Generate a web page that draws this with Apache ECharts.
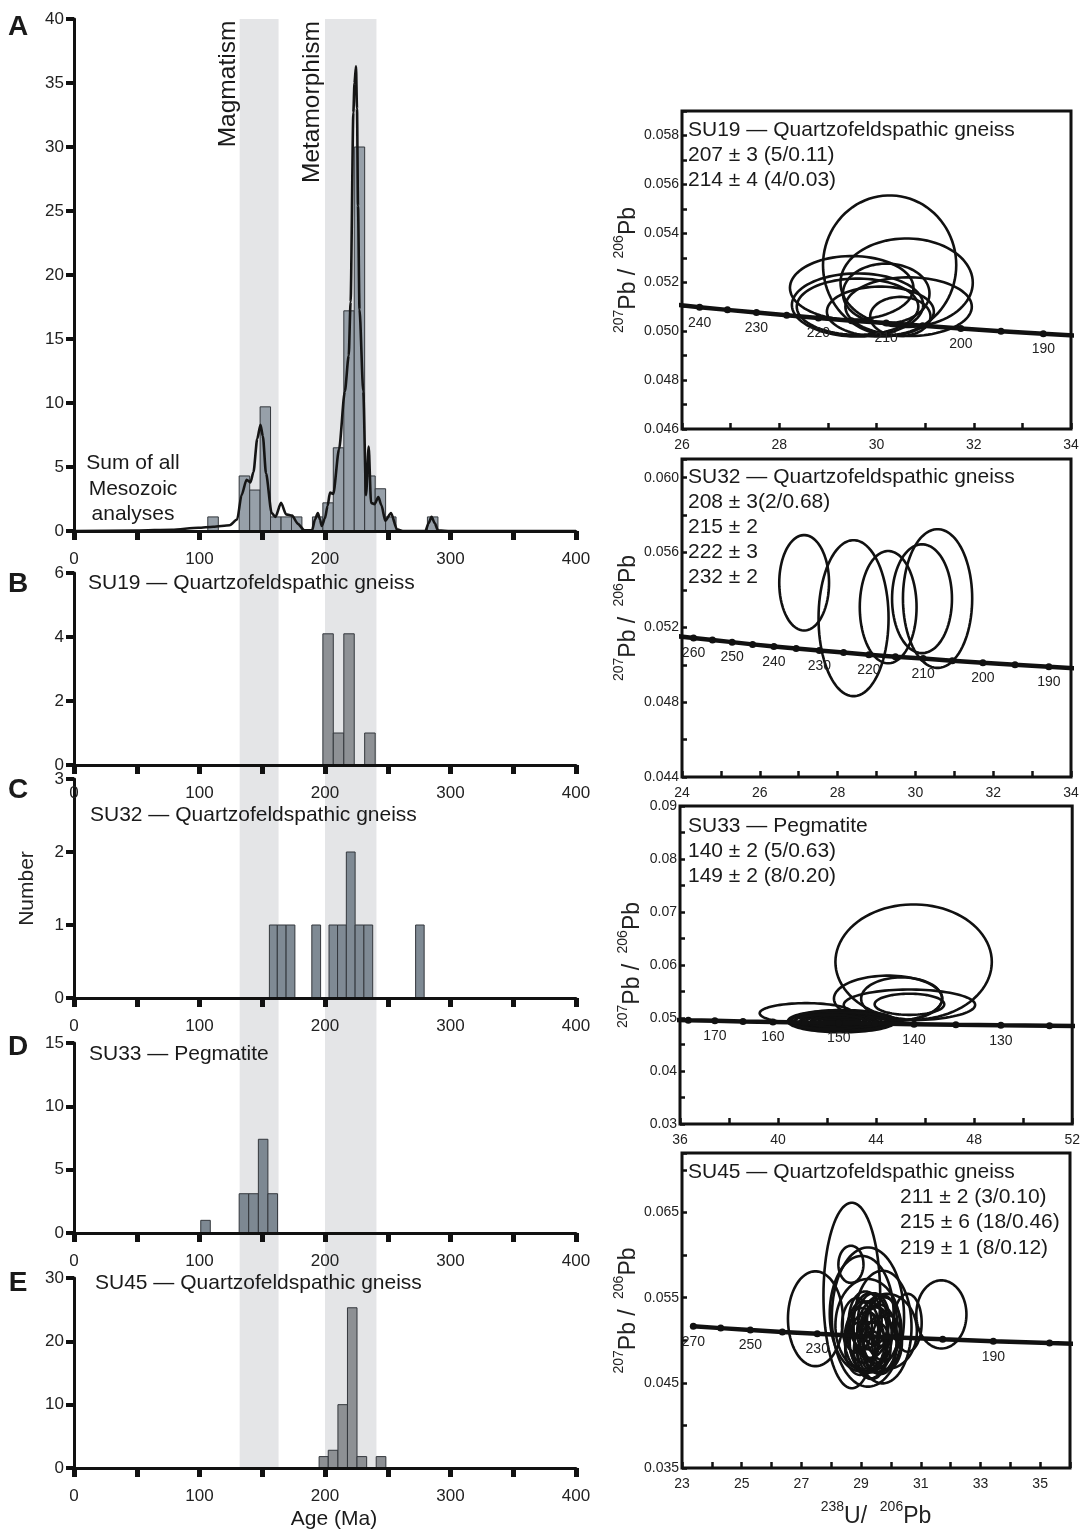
<!DOCTYPE html>
<html>
<head>
<meta charset="utf-8">
<script src="https://cdn.jsdelivr.net/npm/echarts@6/dist/echarts.min.js"></script>
<style>
  html, body { margin: 0; padding: 0; background: #fff; }
  #chart { width: 1083px; height: 1529px; }
</style>
</head>
<body>
<div id="chart"></div>
<script>
const FONT = '"Liberation Sans", Arial, Helvetica, sans-serif';

// age bands (Ma)
const bands = [[132, 163], [200, 241]];

// histogram bins: [from, to, count]
const binsA = [[106.6,115,1.1],[131.6,140,4.3],[140,148.3,3.2],[148.3,156.6,9.7],[156.6,165,1.1],[165,173.3,1.1],[173.3,181.6,1.1],[190,198.3,1.1],[198.3,206.6,2.2],[206.6,215,6.5],[215,223.3,17.2],[223.3,231.6,30],[231.6,240,4.3],[240,248.3,3.3],[248.3,256.6,1.1],[281.6,290,1.1]];
const binsB = [[198.3,206.6,4.1],[206.6,215,1],[215,223.3,4.1],[231.6,240,1]];
const binsC = [[155.7,162,1],[162,169,1],[169,176,1],[189.5,196.5,1],[203.2,210,1],[210,217,1],[217,224,2],[224,231,1],[231,238,1],[272.2,279,1]];
const binsD = [[101,108.6,1],[131.6,139.2,3.1],[139.2,146.9,3.1],[146.9,154.5,7.4],[154.5,162.2,3.1]];
const binsE = [[195.3,202.6,1.8],[202.6,210.3,2.8],[210.3,217.9,10],[217.9,225.5,25.3],[225.5,233.2,1.8],[240.8,248.5,1.8]];

// probability curve of panel A
const kdeAge = [0,50,78,99,111,124,130,133.5,137.5,140.6,143,146,148.6,150.5,153,157.5,160.5,165,169,173.8,178.4,183.6,189.7,192,194.3,196,197.4,200,202,204,206.6,211.2,215.8,218.9,220.4,222.6,223.5,224.7,225.5,226.3,227.5,230.5,232.7,234.8,236.7,239.5,242.5,245,248,252.6,257.3,262,280,282.5,284.9,287.5,290,300,400];
const kdeVal = [0,0.03,0.1,0.25,0.33,0.45,0.9,2.8,4.0,3.8,4.6,7.2,8.3,7.4,4.5,1.4,1.1,2.2,1.3,1.2,0.56,0.05,0.05,0.9,1.4,0.9,0.4,1.0,1.95,3.0,2.9,6.4,10.9,13.7,17.9,32.7,35,36.3,33,25.4,17.3,10.9,2.8,6.6,2.2,2.1,2.65,2.0,0.8,1.4,0.14,0,0,0.6,1.1,0.6,0.05,0,0];

// concordia points: age (Ma), 238U/206Pb, 207Pb/206Pb
const concAge = [120,125,130,135,140,145,150,155,160,165,170,175,180,185,190,195,200,205,210,215,220,225,230,235,240,245,250,255,260,265,270,275];
const concX = [53.222,51.073,49.090,47.253,45.548,43.960,42.478,41.091,39.792,38.571,37.422,36.339,35.316,34.348,33.431,32.561,31.735,30.949,30.200,29.486,28.805,28.154,27.531,26.935,26.363,25.815,25.289,24.783,24.297,23.829,23.379,22.945];
const concY = [0.04842,0.04853,0.04863,0.04873,0.04884,0.04894,0.04905,0.04915,0.04926,0.04936,0.04947,0.04957,0.04968,0.04979,0.04989,0.05000,0.05011,0.05022,0.05033,0.05043,0.05054,0.05065,0.05076,0.05087,0.05098,0.05109,0.05121,0.05132,0.05143,0.05154,0.05165,0.05176];

// error ellipses: [x centre, y centre, x semi-axis, y semi-axis]
const ellSU19 = [[30.27,0.0527,1.37,0.00285],[30.62,0.05198,1.36,0.00181],[29.49,0.05177,1.27,0.0013],[29.61,0.05107,1.35,0.00129],[29.61,0.0510,1.25,0.00115],[30.08,0.0508,1.10,0.00102],[30.66,0.0510,1.30,0.0012],[30.49,0.0506,0.62,0.0008],[30.2,0.05154,0.89,0.00122]];
const ellSU32 = [[27.14,0.05438,0.64,0.00255],[28.41,0.05249,0.90,0.00417],[29.30,0.05308,0.73,0.0030],[30.17,0.05353,0.77,0.00291],[30.57,0.05354,0.89,0.00371]];
const ellSU33 = [[45.53,0.06057,3.19,0.01086],[44.49,0.05366,2.21,0.00433],[45.04,0.05366,1.65,0.0040],[45.36,0.05247,2.68,0.0029],[45.36,0.05259,1.42,0.002],[41.15,0.0509,1.9,0.0019],
  [42.6,0.0494,2.2,0.0021],[42.55,0.0494,2.05,0.0019],[42.6,0.04945,1.9,0.0017],[42.65,0.0494,1.75,0.0015],[42.6,0.04945,1.6,0.0013],[42.6,0.0494,1.45,0.0011],[42.65,0.04945,1.3,0.0009],[42.6,0.0494,1.15,0.0007],[42.6,0.04945,0.95,0.0005],[42.6,0.0494,0.75,0.0003],[42.24,0.04952,1.69,0.00176],[43.05,0.04933,1.63,0.00157],[42.78,0.04965,1.76,0.0014],[42.10,0.04925,1.49,0.00138]];
const ellSU45 = [[28.69,0.05526,0.95,0.0109],[27.47,0.05253,0.92,0.00557],[31.69,0.05304,0.84,0.0040],[28.66,0.05892,0.42,0.00218],[29.23,0.05273,1.21,0.00818],[29.02,0.05312,1.07,0.0068],[29.72,0.05156,0.97,0.00662],[29.22,0.05175,1.08,0.00545],[29.87,0.05105,1.0,0.0044],[30.56,0.05206,0.47,0.0034],
  [29.08,0.05097,0.55,0.0036],[29.31,0.05175,0.6,0.0038],[29.53,0.05058,0.5,0.0033],[29.20,0.0498,0.58,0.0035],[29.42,0.05253,0.52,0.0030],[29.64,0.04942,0.55,0.0034],[28.97,0.04903,0.5,0.0031],[29.75,0.05136,0.6,0.0037],[29.36,0.04825,0.48,0.0028],[28.86,0.05175,0.5,0.0032],[29.59,0.0502,0.62,0.004],[29.25,0.05039,0.66,0.0042],[29.47,0.04922,0.52,0.003],[29.14,0.05234,0.55,0.0034],[29.87,0.0498,0.5,0.0032],[29.03,0.0502,0.58,0.0036],[29.70,0.05234,0.5,0.003],[29.42,0.05136,0.45,0.0026],[29.31,0.04883,0.55,0.0033]];

// labelled concordia ages
const labSU19 = [240,230,220,210,200,190];
const labSU32 = [260,250,240,230,220,210,200,190];
const labSU33 = [170,160,150,140,130];
const labSU45 = [270,250,230,190];

const chart = echarts.init(document.getElementById('chart'));

const leftPanels = [
  { top: 19,   height: 512, max: 40, interval: 5,  bins: binsA, fill: '#97a0a9' },
  { top: 573,  height: 192, max: 6,  interval: 2,  bins: binsB, fill: '#8e9195' },
  { top: 779,  height: 219, max: 3,  interval: 1,  bins: binsC, fill: '#7f8a94' },
  { top: 1043, height: 190, max: 15, interval: 5,  bins: binsD, fill: '#7d8892' },
  { top: 1278, height: 190, max: 30, interval: 10, bins: binsE, fill: '#8d9094' }
];

const rightPanels = [
  { left: 682, top: 111, width: 389, height: 318, xMin: 26, xMax: 34, xInt: 1, yMin: 0.046, yMax: 0.059, yInt: 0.001,
    xFmt: v => (v % 2 === 0 ? String(v) : ''), yFmt: v => (Math.round(v * 1000) % 2 === 0 ? v.toFixed(3) : ''),
    ells: ellSU19, step: 5, labels: labSU19 },
  { left: 682, top: 459, width: 389, height: 318, xMin: 24, xMax: 34, xInt: 1, yMin: 0.044, yMax: 0.061, yInt: 0.002,
    xFmt: v => (v % 2 === 0 ? String(v) : ''), yFmt: v => (Math.round(v * 1000) % 4 === 0 ? v.toFixed(3) : ''),
    ells: ellSU32, step: 5, labels: labSU32 },
  { left: 680, top: 806, width: 393, height: 318, xMin: 36, xMax: 52, xInt: 2, yMin: 0.03, yMax: 0.09, yInt: 0.005,
    xFmt: v => (v % 4 === 0 ? String(v) : ''), yFmt: v => (Math.round(v * 1000) % 10 === 0 ? v.toFixed(2) : ''),
    ells: ellSU33, step: 5, labels: labSU33 },
  { left: 682, top: 1153, width: 388, height: 317, xMin: 23, xMax: 36, xInt: 1, yMin: 0.035, yMax: 0.072, yInt: 0.005,
    xFmt: v => (v % 2 === 1 ? String(v) : ''), yFmt: v => (Math.round(v * 1000) % 10 === 5 ? v.toFixed(3) : ''),
    ells: ellSU45, step: 10, labels: labSU45 }
];

const grids = [], xAxes = [], yAxes = [], series = [];

function barItem(fill) {
  return function (params, api) {
    const a = api.coord([api.value(0), api.value(2)]);
    const b = api.coord([api.value(1), 0]);
    return { type: 'rect', shape: { x: a[0], y: a[1], width: b[0] - a[0], height: b[1] - a[1] },
      style: { fill: fill, stroke: '#33373c', lineWidth: 1 } };
  };
}

function ellipseItem(params, api) {
  const cx = api.value(0), cy = api.value(1), rx = api.value(2), ry = api.value(3);
  const pts = [];
  for (let k = 0; k < 90; k++) {
    const t = k / 90 * Math.PI * 2;
    pts.push(api.coord([cx + rx * Math.cos(t), cy + ry * Math.sin(t)]));
  }
  return { type: 'polygon', shape: { points: pts }, style: { fill: 'none', stroke: '#111', lineWidth: 2.6 } };
}

// left histograms
leftPanels.forEach((p, i) => {
  grids.push({ left: 74, top: p.top, width: 502, height: p.height });
  xAxes.push({
    gridIndex: i, type: 'value', min: 0, max: 400, interval: 50, z: 5,
    axisLine: { lineStyle: { color: '#111', width: 3 } },
    axisTick: { length: 9, lineStyle: { color: '#111', width: 5 } },
    axisLabel: { margin: 20, fontSize: 17, color: '#222', fontFamily: FONT, formatter: v => (v % 100 === 0 ? String(v) : '') },
    splitLine: { show: false }
  });
  yAxes.push({
    gridIndex: i, type: 'value', min: 0, max: p.max, interval: p.interval, z: 5,
    name: i === 2 ? 'Number' : '', nameLocation: 'middle', nameGap: 36, nameRotate: 90,
    nameTextStyle: { fontSize: 21, color: '#222', fontFamily: FONT },
    axisLine: { show: true, lineStyle: { color: '#111', width: 3 } },
    axisTick: { show: true, length: 8, lineStyle: { color: '#111', width: 4 } },
    axisLabel: { margin: 10, fontSize: 17, color: '#222', fontFamily: FONT },
    splitLine: { show: false }
  });
  series.push({ type: 'custom', xAxisIndex: i, yAxisIndex: i, z: 3, data: p.bins,
    encode: { x: [0, 1], y: 2 }, renderItem: barItem(p.fill) });
});

series.push({
  type: 'line', xAxisIndex: 0, yAxisIndex: 0, z: 4,
  data: kdeAge.map((a, i) => [a, kdeVal[i]]),
  showSymbol: false, smooth: 0.25, smoothMonotone: 'x',
  lineStyle: { color: '#151515', width: 2.6 }
});

// shaded bands spanning all left panels
grids.push({ left: 74, top: 19, width: 502, height: 1449 });
xAxes.push({ gridIndex: 5, type: 'value', min: 0, max: 400, show: false });
yAxes.push({ gridIndex: 5, type: 'value', min: 0, max: 1, show: false });
series.push({
  type: 'custom', xAxisIndex: 5, yAxisIndex: 5, z: 0, data: bands, encode: { x: [0, 1] }, silent: true,
  renderItem: function (params, api) {
    const a = api.coord([api.value(0), 1]);
    const b = api.coord([api.value(1), 0]);
    return { type: 'rect', shape: { x: a[0], y: a[1], width: b[0] - a[0], height: b[1] - a[1] }, style: { fill: '#e4e5e7' } };
  }
});

// right concordia diagrams
const richName = {
  m: { fontSize: 23, fontFamily: FONT, color: '#222', verticalAlign: 'bottom', lineHeight: 28 },
  s: { fontSize: 14, fontFamily: FONT, color: '#222', verticalAlign: 'top', lineHeight: 28 }
};
rightPanels.forEach((p, k) => {
  const gi = 6 + k;
  grids.push({ left: p.left, top: p.top, width: p.width, height: p.height, show: true, borderColor: '#111', borderWidth: 3 });
  xAxes.push({
    gridIndex: gi, type: 'value', min: p.xMin, max: p.xMax, interval: p.xInt,
    name: k === 3 ? '{s|238}{m|U/  }{s|206}{m|Pb}' : '', nameLocation: 'middle', nameGap: 32,
    nameTextStyle: { rich: richName },
    axisLine: { show: false },
    axisTick: { show: true, inside: true, length: 6, lineStyle: { color: '#111', width: 2.5 } },
    axisLabel: { margin: 9, fontSize: 14, color: '#222', fontFamily: FONT, formatter: p.xFmt },
    splitLine: { show: false }
  });
  yAxes.push({
    gridIndex: gi, type: 'value', min: p.yMin, max: p.yMax, interval: p.yInt,
    name: '{s|207}{m|Pb / }{s| 206}{m|Pb}', nameLocation: 'middle', nameGap: 36, nameRotate: 90,
    nameTextStyle: { rich: richName },
    axisLine: { show: false },
    axisTick: { show: true, inside: true, length: 5, lineStyle: { color: '#111', width: 2.5 } },
    axisLabel: { margin: 3, fontSize: 14, color: '#222', fontFamily: FONT, formatter: p.yFmt },
    splitLine: { show: false }
  });
  series.push({ type: 'custom', xAxisIndex: gi, yAxisIndex: gi, z: 3, data: p.ells,
    encode: { x: 0, y: 1 }, renderItem: ellipseItem, clip: true });
  const pts = [];
  concAge.forEach((a, i) => { if (a % p.step === 0) pts.push([concX[i], concY[i], a]); });
  series.push({
    type: 'line', xAxisIndex: gi, yAxisIndex: gi, z: 4, data: pts, clip: true,
    symbol: 'circle', symbolSize: 7, showSymbol: true,
    itemStyle: { color: '#111' }, lineStyle: { color: '#111', width: 4.5 },
    label: { show: true, position: 'bottom', distance: 5, fontSize: 14, color: '#222', fontFamily: FONT,
      formatter: q => (p.labels.indexOf(q.value[2]) >= 0 ? String(q.value[2]) : '') }
  });
});

function txt(text, x, y, size, opt) {
  opt = opt || {};
  return {
    type: 'text', x: x, y: y, rotation: opt.rot || 0, z: 20,
    style: { text: text, font: (opt.bold ? 'bold ' : '') + size + 'px ' + FONT, fill: '#1a1a1a',
      textAlign: opt.align || 'left', textVerticalAlign: 'middle' }
  };
}

const graphics = [
  txt('A', 18, 27, 28, { bold: true, align: 'center' }),
  txt('B', 18, 584, 28, { bold: true, align: 'center' }),
  txt('C', 18, 790, 28, { bold: true, align: 'center' }),
  txt('D', 18, 1047, 28, { bold: true, align: 'center' }),
  txt('E', 18, 1283, 28, { bold: true, align: 'center' }),
  txt('Magmatism', 228, 84, 24.5, { align: 'center', rot: Math.PI / 2 }),
  txt('Metamorphism', 312, 102, 24.5, { align: 'center', rot: Math.PI / 2 }),
  txt('Sum of all', 133, 463, 21, { align: 'center' }),
  txt('Mesozoic', 133, 489, 21, { align: 'center' }),
  txt('analyses', 133, 514, 21, { align: 'center' }),
  txt('SU19 \u2014 Quartzofeldspathic gneiss', 88, 583, 21),
  txt('SU32 \u2014 Quartzofeldspathic gneiss', 90, 815, 21),
  txt('SU33 \u2014 Pegmatite', 89, 1054, 21),
  txt('SU45 \u2014 Quartzofeldspathic gneiss', 95, 1283, 21),
  txt('Age (Ma)', 334, 1519, 21, { align: 'center' }),
  txt('SU19 \u2014 Quartzofeldspathic gneiss', 688, 130, 21),
  txt('207 \u00b1 3 (5/0.11)', 688, 155, 21),
  txt('214 \u00b1 4 (4/0.03)', 688, 180, 21),
  txt('SU32 \u2014 Quartzofeldspathic gneiss', 688, 477, 21),
  txt('208 \u00b1 3(2/0.68)', 688, 502, 21),
  txt('215 \u00b1 2', 688, 527, 21),
  txt('222 \u00b1 3', 688, 552, 21),
  txt('232 \u00b1 2', 688, 577, 21),
  txt('SU33 \u2014 Pegmatite', 688, 826, 21),
  txt('140 \u00b1 2 (5/0.63)', 688, 851, 21),
  txt('149 \u00b1 2 (8/0.20)', 688, 876, 21),
  txt('SU45 \u2014 Quartzofeldspathic gneiss', 688, 1172, 21),
  txt('211 \u00b1 2 (3/0.10)', 900, 1197, 21),
  txt('215 \u00b1 6 (18/0.46)', 900, 1222, 21),
  txt('219 \u00b1 1 (8/0.12)', 900, 1248, 21)
];

chart.setOption({
  animation: false,
  backgroundColor: '#fff',
  textStyle: { fontFamily: FONT },
  grid: grids,
  xAxis: xAxes,
  yAxis: yAxes,
  series: series,
  graphic: graphics
});
</script>
</body>
</html>
